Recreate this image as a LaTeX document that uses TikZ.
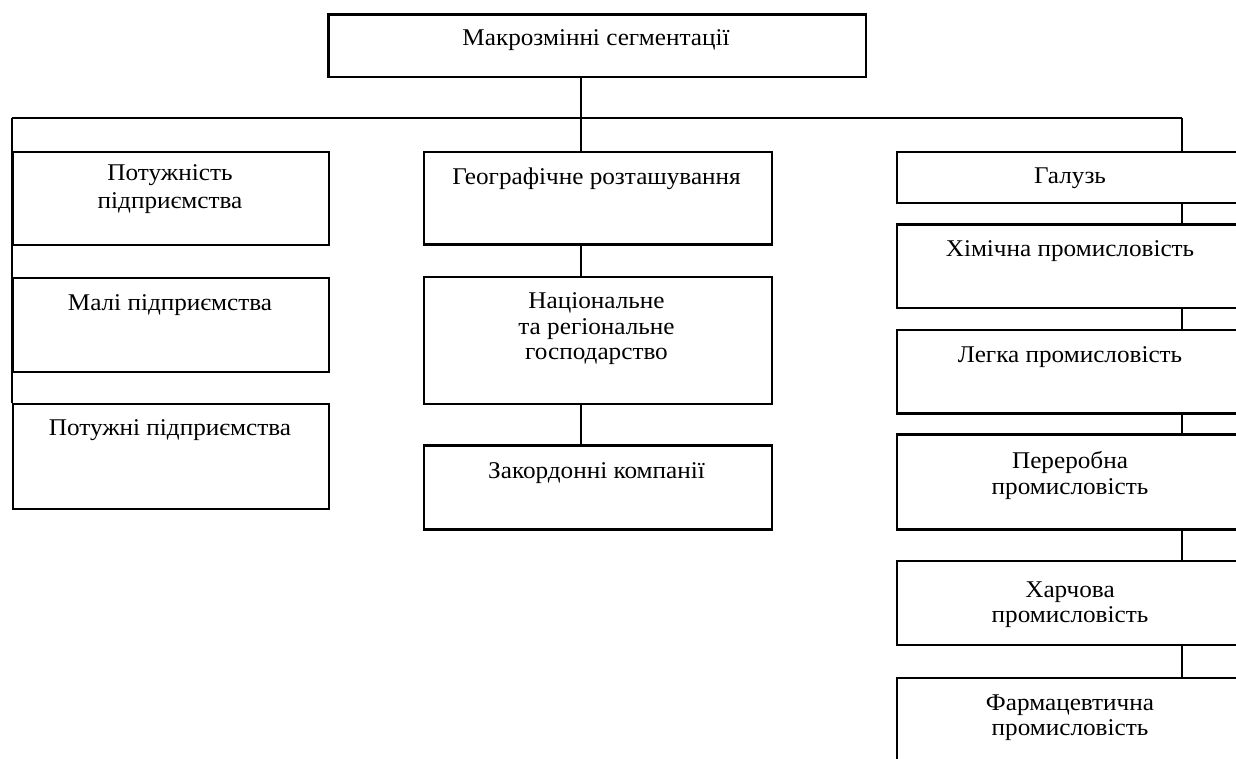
\documentclass[tikz,border=0pt]{standalone}
\usepackage{fontspec}
\setmainfont{Liberation Serif}[FakeStretch=1.05]
\begin{document}
\begin{tikzpicture}[x=1pt, y=-1pt,
    box/.style={draw=black, line width=2.2pt, inner sep=0pt, anchor=north west},
    leftbox/.style={box, minimum width=316pt},
    midbox/.style={box, minimum width=347.5pt},
    rightbox/.style={box, minimum width=348pt},
    txt/.style={anchor=north, yshift={0.7*#1pt}, align=center, inner sep=0pt,
      font=\fontsize{24}{#1}\selectfont, execute at begin node=\strut},
    txt/.default=25.5,
    link/.style={draw=black, line width=1.8pt}]
  \useasboundingbox (0,0) rectangle (1236,758);

  % boxes
  \node[box, minimum width=537.7pt, minimum height=62.7pt] (macro) at (327.3,13.3) {};
  \node[leftbox, minimum height=93.3pt] (power) at (12,150.7) {};
  \node[leftbox, minimum height=94pt] (small) at (12,276.7) {};
  \node[leftbox, minimum height=105pt] (big) at (12,402.7) {};
  \node[midbox, minimum height=92.6pt] (geo) at (423,150.7) {};
  \node[midbox, minimum height=127pt] (nat) at (423,275.7) {};
  \node[midbox, minimum height=84pt] (foreign) at (423,444.3) {};
  \node[rightbox, minimum height=51pt] (branch) at (896,150.7) {};
  \node[rightbox, minimum height=83.4pt] (chem) at (896,223.3) {};
  \node[rightbox, minimum height=83.6pt] (light) at (896,328.7) {};
  \node[rightbox, minimum height=95pt] (proc) at (896,433.3) {};
  \node[rightbox, minimum height=84pt] (food) at (896,560) {};
  \node[rightbox, minimum height=95pt] (pharm) at (896,676.7) {};

  % texts (first baseline)
  \node[txt] (macro-t) at (596,45.7) {Макрозмінні сегментації};
  \node[txt=28] (power-t) at (170,184.3) {Потужність\\підприємства};
  \node[txt] (small-t) at (170,310.7) {Малі підприємства};
  \node[txt] (big-t) at (170,435) {Потужні підприємства};
  \node[txt] (geo-t) at (596.5,184) {Географічне розташування};
  \node[txt] (nat-t) at (596.5,310.7) {Національне\\та регіональне\\господарство};
  \node[txt] (foreign-t) at (596.5,478.3) {Закордонні компанії};
  \node[txt] (branch-t) at (1070,183.3) {Галузь};
  \node[txt] (chem-t) at (1070,256.7) {Хімічна промисловість};
  \node[txt] (light-t) at (1070,362.3) {Легка промисловість};
  \node[txt] (proc-t) at (1070,469) {Переробна\\промисловість};
  \node[txt] (food-t) at (1070,599) {Харчова\\промисловість};
  \node[txt] (pharm-t) at (1070,712.3) {Фармацевтична\\промисловість};

  % lines
  \coordinate (hl) at (12,118);
  \coordinate (hm) at (580.7,118);
  \coordinate (hr) at (1182,118);
  \draw[link] (hm |- macro.south) -- (hm);
  \draw[link] (hl) -- (hr);
  \draw[link] (hl) -- (big.north west);
  \draw[link] (hm) -- (hm |- geo.north);
  \draw[link] (hm |- geo.south) -- (hm |- nat.north);
  \draw[link] (hm |- nat.south) -- (hm |- foreign.north);
  \draw[link] (hr) -- (hr |- branch.north);
  \foreach \a/\b in {branch/chem, chem/light, light/proc, proc/food, food/pharm}
    \draw[link] (hr |- \a.south) -- (hr |- \b.north);
\end{tikzpicture}
\end{document}
